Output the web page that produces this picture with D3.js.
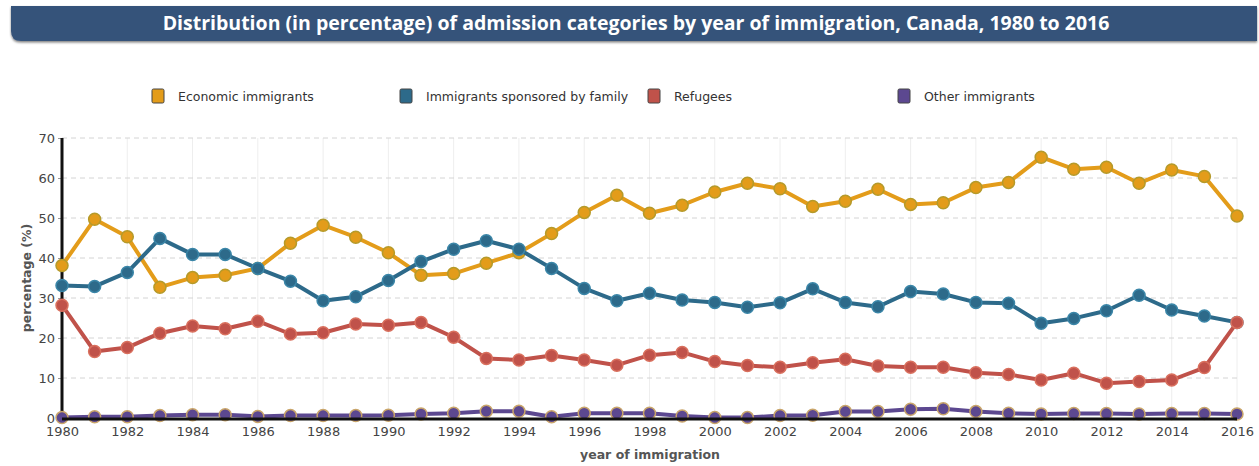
<!DOCTYPE html>
<html>
<head>
<meta charset="utf-8">
<script src="https://d3js.org/d3.v7.min.js"></script>
<style>
    body { margin: 0; background: #fff; }
    svg { display: block; }
    .tick text { font-family: "DejaVu Sans", sans-serif; font-size: 13px; fill: #444; }
</style>
</head>
<body>
<svg id="chart" width="1259" height="466"></svg>
<script>
const years = d3.range(1980, 2017);

const economic = [38.1, 49.7, 45.3, 32.7, 35.1, 35.7, 37.4, 43.7, 48.2, 45.2, 41.3, 35.7, 36.1, 38.7, 41.3, 46.1,
    51.4, 55.7, 51.2, 53.2, 56.5, 58.7, 57.3, 52.9, 54.2, 57.2, 53.4, 53.8, 57.6, 58.9, 65.2, 62.2, 62.7, 58.7, 62.0, 60.4, 50.5];
const family = [33.1, 32.9, 36.4, 44.9, 40.9, 40.9, 37.4, 34.2, 29.3, 30.3, 34.4, 39.1, 42.2, 44.3, 42.2, 37.4,
    32.4, 29.3, 31.2, 29.5, 28.9, 27.7, 28.8, 32.3, 28.9, 27.8, 31.6, 31.0, 28.9, 28.7, 23.7, 24.9, 26.8, 30.7, 27.0, 25.5, 23.9];
const refugees = [28.2, 16.6, 17.6, 21.2, 23.0, 22.3, 24.2, 21.0, 21.3, 23.5, 23.2, 23.9, 20.2, 14.9, 14.5, 15.6,
    14.5, 13.2, 15.7, 16.4, 14.1, 13.1, 12.7, 13.8, 14.7, 13.0, 12.7, 12.7, 11.3, 10.9, 9.5, 11.2, 8.7, 9.1, 9.5, 12.6, 23.9];
const other = [0.1, 0.3, 0.3, 0.6, 0.8, 0.8, 0.4, 0.6, 0.6, 0.6, 0.7, 1.0, 1.2, 1.7, 1.7, 0.3,
    1.2, 1.2, 1.2, 0.5, 0.1, 0.1, 0.6, 0.7, 1.6, 1.6, 2.2, 2.3, 1.6, 1.2, 1.0, 1.1, 1.1, 1.0, 1.1, 1.1, 1.0];

const seriesNames = ["Economic immigrants", "Immigrants sponsored by family", "Refugees", "Other immigrants"];
const seriesValues = [economic, family, refugees, other];
const yTicks = [0, 10, 20, 30, 40, 50, 60, 70];
const xTicks = d3.range(1980, 2017, 2);

const colors = ["#e39c1a", "#2d6a8a", "#c0524a", "#5c4890"];
const markerStrokes = ["#b59a2a", "#3b86a8", "#d9705e", "#c9a56a"];

const svg = d3.select("#chart");

// title bar
const defs = svg.append("defs");
const shadow = defs.append("filter").attr("id", "shadow")
    .attr("x", "-2%").attr("y", "-20%").attr("width", "104%").attr("height", "160%");
shadow.append("feDropShadow").attr("dx", 0).attr("dy", 1.5).attr("stdDeviation", 1.2)
    .attr("flood-color", "#000").attr("flood-opacity", 0.5);

svg.append("path")
    .attr("d", "M11,6 H1257 V41 H21 Q11,41 11,31 Z")
    .attr("fill", "#36527a")
    .attr("filter", "url(#shadow)");

svg.append("text")
    .attr("x", 636)
    .attr("y", 30)
    .attr("text-anchor", "middle")
    .attr("fill", "#fff")
    .attr("font-family", "'Open Sans', sans-serif")
    .attr("font-weight", "bold")
    .attr("font-size", 19.5)
    .text("Distribution (in percentage) of admission categories by year of immigration, Canada, 1980 to 2016");

// legend
const legendX = [152, 400, 648, 898];
const legend = svg.append("g").selectAll("g")
    .data(seriesNames)
    .enter()
    .append("g")
    .attr("transform", function(d, i) { return "translate(" + legendX[i] + ",89)"; });

legend.append("rect")
    .attr("width", 12)
    .attr("height", 14)
    .attr("rx", 1.5)
    .attr("fill", function(d, i) { return colors[i]; })
    .attr("stroke", "#444")
    .attr("stroke-width", 1);

legend.append("text")
    .attr("x", 26)
    .attr("y", 12)
    .attr("font-family", "'DejaVu Sans', sans-serif")
    .attr("font-size", 12.5)
    .attr("fill", "#333")
    .text(function(d) { return d; });

// scales
const x = d3.scaleLinear().domain([1980, 2016]).range([62, 1237]);
const y = d3.scaleLinear().domain([0, 70]).range([418, 138]);

// grid
const grid = svg.append("g");
grid.selectAll(".vgrid")
    .data(xTicks)
    .enter()
    .append("line")
    .attr("x1", function(d) { return x(d); })
    .attr("x2", function(d) { return x(d); })
    .attr("y1", y(70))
    .attr("y2", y(0))
    .attr("stroke", "#eeeeee")
    .attr("stroke-width", 1);

grid.selectAll(".hgrid")
    .data(yTicks.filter(function(d) { return d > 0; }))
    .enter()
    .append("line")
    .attr("x1", x(1980))
    .attr("x2", x(2016))
    .attr("y1", function(d) { return y(d); })
    .attr("y2", function(d) { return y(d); })
    .attr("stroke", "#d4d4d4")
    .attr("stroke-dasharray", "5,4")
    .attr("stroke-width", 1);

// axes
const xAxis = svg.append("g")
    .attr("transform", "translate(0," + y(0) + ")")
    .call(d3.axisBottom(x).tickValues(xTicks).tickFormat(d3.format("d")).tickSize(0).tickPadding(9));
xAxis.select(".domain").remove();

const yAxis = svg.append("g")
    .attr("transform", "translate(" + x(1980) + ",0)")
    .call(d3.axisLeft(y).tickValues(yTicks).tickSize(4).tickPadding(3));
yAxis.select(".domain").remove();
yAxis.selectAll(".tick line").attr("stroke", "#999");

// axis lines
svg.append("line")
    .attr("x1", x(1980)).attr("x2", x(1980))
    .attr("y1", y(70)).attr("y2", y(0) + 1)
    .attr("stroke", "#111").attr("stroke-width", 3);

// lines and markers
const line = d3.line()
    .x(function(d, i) { return x(years[i]); })
    .y(function(d) { return y(d); });

seriesValues.forEach(function(values, s) {
    const g = svg.append("g");

    if (s === 3) {
        svg.append("line")
            .attr("x1", x(1980)).attr("x2", x(2016))
            .attr("y1", y(0) + 1).attr("y2", y(0) + 1)
            .attr("stroke", "#111").attr("stroke-width", 3);
    }

    g.append("path")
        .datum(values)
        .attr("fill", "none")
        .attr("stroke", colors[s])
        .attr("stroke-width", 4)
        .attr("stroke-linejoin", "round")
        .attr("d", line);

    g.selectAll("circle")
        .data(values)
        .enter()
        .append("circle")
        .attr("cx", function(d, i) { return x(years[i]); })
        .attr("cy", function(d) { return y(d); })
        .attr("r", 6)
        .attr("fill", colors[s])
        .attr("stroke", markerStrokes[s])
        .attr("stroke-width", 1.5);
});

// axis titles
svg.append("text")
    .attr("x", 650)
    .attr("y", 459)
    .attr("text-anchor", "middle")
    .attr("font-family", "'DejaVu Sans', sans-serif")
    .attr("font-weight", "bold")
    .attr("font-size", 12.5)
    .attr("fill", "#555")
    .text("year of immigration");

svg.append("text")
    .attr("transform", "translate(31,278) rotate(-90)")
    .attr("text-anchor", "middle")
    .attr("font-family", "'DejaVu Sans', sans-serif")
    .attr("font-weight", "bold")
    .attr("font-size", 12.5)
    .attr("fill", "#555")
    .text("percentage (%)");
</script>
</body>
</html>
